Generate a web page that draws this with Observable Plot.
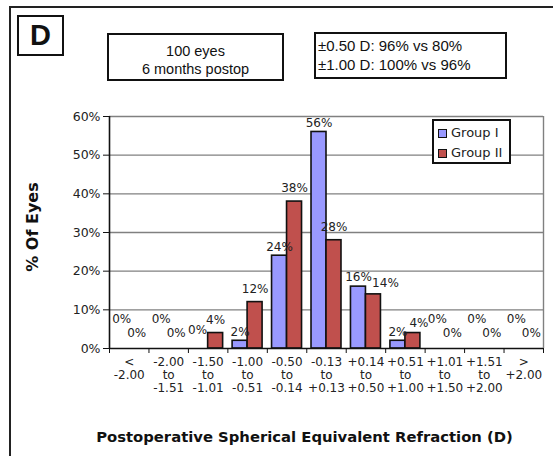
<!DOCTYPE html>
<html>
<head>
<meta charset="utf-8">
<script src="https://cdn.jsdelivr.net/npm/d3@7"></script>
<script src="https://cdn.jsdelivr.net/npm/@observablehq/plot@0.6"></script>
<style>
  html, body { margin: 0; padding: 0; background: #fff; overflow: hidden; }
  #wrap { position: relative; width: 553px; height: 456px; overflow: hidden; background: #fff; }
  #wrap svg { position: absolute; left: 0; top: 0; }
  .abs { position: absolute; box-sizing: border-box; }
  .frame { left: 9px; top: 6px; width: 700px; height: 700px; border: 2px solid #222; }
  .box { border: 2px solid #111; background: #fff; font-family: "Liberation Sans", Arial, sans-serif; color: #111; }
  .bold { font-family: "DejaVu Sans", Verdana, sans-serif; font-weight: bold; color: #111; }
  .leg { left: 432px; top: 119px; width: 79px; height: 45px; border: 2px solid #111; background: #fff;
         font-family: "DejaVu Sans", Verdana, sans-serif; font-size: 13px; color: #222; }
  .sw { position: absolute; width: 9px; height: 9px; box-sizing: border-box; border: 1.5px solid #111; }
</style>
</head>
<body>
<div id="wrap">
  <div class="abs frame"></div>
</div>
<script>
const categories = ["<\n-2.00", "-2.00\nto\n-1.51", "-1.50\nto\n-1.01", "-1.00\nto\n-0.51", "-0.50\nto\n-0.14",
  "-0.13\nto\n+0.13", "+0.14\nto\n+0.50", "+0.51\nto\n+1.00", "+1.01\nto\n+1.50", "+1.51\nto\n+2.00", ">\n+2.00"];
const groups = ["Group I", "Group II"];
const groupI = [0, 0, 0, 2, 24, 56, 16, 2, 0, 0, 0];
const groupII = [0, 0, 4, 12, 38, 28, 14, 4, 0, 0, 0];
const colors = ["#9999ff", "#c0504d"];
const yTicks = [0, 10, 20, 30, 40, 50, 60];
const infoLines = ["100 eyes", "6 months postop"];
const statLines = ["\u00B10.50 D: 96% vs 80%", "\u00B11.00 D: 100% vs 96%"];
const panel = "D";
const xTitle = "Postoperative Spherical Equivalent Refraction (D)";
const yTitle = "% Of Eyes";

const series = [groupI, groupII];
const rows = [];
series.forEach((vals, g) => vals.forEach((v, i) => rows.push({i, cat: categories[i], group: groups[g], g, value: v,
  other: series[1 - g][i]})));

const pad = 0.12, half = 0.5;
const x1 = d => d.i + (d.g === 0 ? pad : half);
const x2 = d => d.i + (d.g === 0 ? half : 1 - pad);
const xc = d => (x1(d) + x2(d)) / 2;
const crowded = d => d.other > 0 && Math.abs(d.value - d.other) < 5;
const lbl = (filter, dy, dx = 0) => Plot.text(rows.filter(filter),
  {x: xc, y: "value", text: d => d.value + "%", dy, dx, fill: "#222", fontSize: 12});

const chart = Plot.plot({
  width: 553, height: 456,
  marginLeft: 109, marginRight: 10, marginTop: 116, marginBottom: 108,
  x: {domain: [0, categories.length]},
  y: {domain: [0, 60]},
  style: {fontFamily: "DejaVu Sans, Verdana, sans-serif", fontSize: "12px", background: "transparent", color: "#222"},
  marks: [
    Plot.gridY(yTicks.slice(1), {stroke: "#808080", strokeOpacity: 1, strokeWidth: 1.4}),
    Plot.ruleX([categories.length], {stroke: "#808080", strokeWidth: 1.4}),
    Plot.rectY(rows.filter(d => d.value > 0), {x1, x2, y: "value", fill: d => colors[d.g], stroke: "#111", strokeWidth: 1.6}),
    Plot.ruleY([0], {stroke: "#111", strokeWidth: 1.6}),
    Plot.ruleX([0], {stroke: "#111", strokeWidth: 1.6}),
    Plot.axisY({ticks: yTicks, tickFormat: d => d + "%", tickSize: 6, tickPadding: 3, label: null, stroke: "#111", fill: "#222", fontSize: 12.5}),
    Plot.axisX({ticks: d3.range(categories.length + 1), tickFormat: () => "", tickSize: 5, label: null, stroke: "#111"}),
    Plot.axisX({ticks: d3.range(categories.length).map(i => i + 0.5), tickFormat: t => categories[Math.floor(t)],
      tickSize: 0, tickPadding: 9, lineHeight: 1.05, label: null, fill: "#222"}),
    lbl(d => d.g === 0 && d.value > 0, -9),
    lbl(d => d.g === 1 && d.value > 0 && !crowded(d), -13),
    lbl(d => d.g === 1 && d.value >= 10 && crowded(d), -11, 12),
    lbl(d => d.g === 1 && d.value > 0 && d.value < 10 && crowded(d), -10, 6),
    lbl(d => d.g === 0 && d.value === 0 && d.other === 0, -29),
    lbl(d => d.g === 0 && d.value === 0 && d.other > 0, -18, -3),
    lbl(d => d.g === 1 && d.value === 0, -15)
  ]
});
const wrap = document.getElementById("wrap");
wrap.appendChild(chart);

function add(cls, css, html) {
  const el = document.createElement("div");
  el.className = "abs " + cls;
  el.style.cssText = css;
  el.innerHTML = html;
  wrap.appendChild(el);
  return el;
}
add("box", "left:17px;top:15px;width:47px;height:41px;font-weight:bold;font-size:29px;text-align:center;line-height:37px;", panel);
add("box", "left:107px;top:33px;width:177px;height:48px;font-size:14.5px;text-align:center;line-height:18px;padding-top:7px;",
  infoLines.join("<br>"));
add("box", "left:314px;top:32px;width:193px;height:47px;font-size:15px;text-align:left;line-height:19px;padding-top:2px;padding-left:2px;",
  statLines.join("<br>"));
const leg = add("leg", "", "");
groups.forEach((g, k) => {
  const sw = document.createElement("div");
  sw.className = "sw";
  sw.style.cssText = `left:4px;top:${8 + k * 20}px;background:${colors[k]};`;
  leg.appendChild(sw);
  const t = document.createElement("div");
  t.style.cssText = `position:absolute;left:17px;top:${3 + k * 20}px;line-height:17px;white-space:nowrap;`;
  t.textContent = g;
  leg.appendChild(t);
});
add("bold", "left:0;top:427px;width:609px;text-align:center;font-size:14.8px;line-height:20px;", xTitle);
add("bold", "left:-67px;top:217px;width:200px;text-align:center;font-size:16px;line-height:20px;transform:rotate(-90deg);", yTitle);
</script>
</body>
</html>
